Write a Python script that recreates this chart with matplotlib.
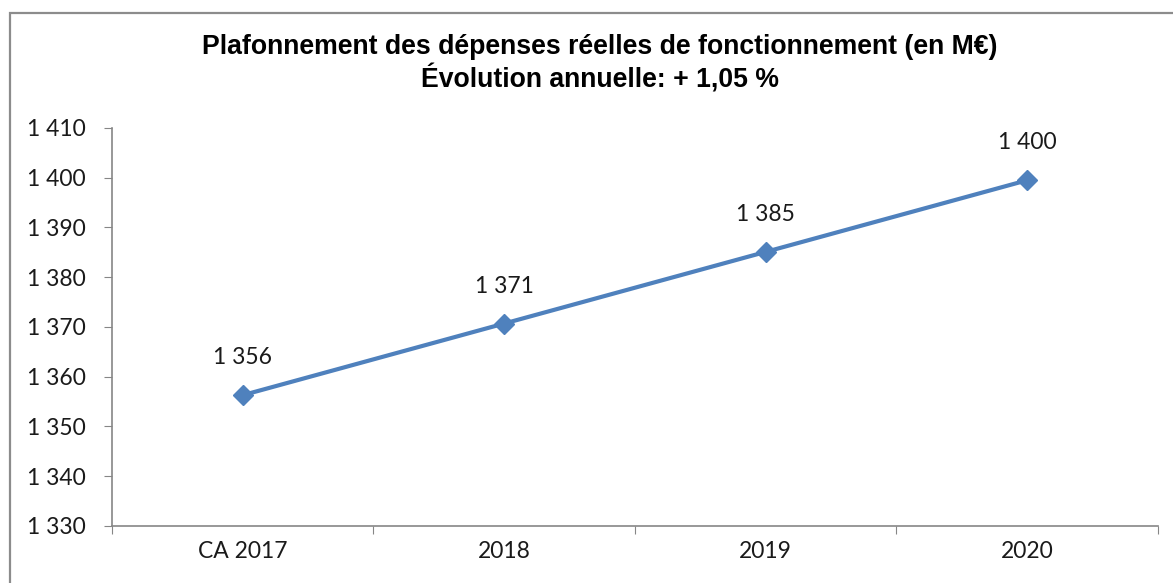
import matplotlib.pyplot as plt
from matplotlib.patches import Rectangle
import numpy as np

# chart data
categories = ["CA 2017", "2018", "2019", "2020"]
values = [1356.3, 1370.7, 1385.1, 1399.5]
value_labels = ["1 356", "1 371", "1 385", "1 400"]
y_ticks = [1330, 1340, 1350, 1360, 1370, 1380, 1390, 1400, 1410]

title = "Plafonnement des dépenses réelles de fonctionnement (en M€)\nÉvolution annuelle: + 1,05 %"

def fmtThousands(v):
	s = "%d" % v
	return s[:-3] + " " + s[-3:] if len(s) > 3 else s

fig = plt.figure(figsize=(11.73, 5.83), dpi=100)
fig.patch.set_facecolor("white")

#outer chart border, cut off on the right and bottom like the screenshot
border = Rectangle((10/1173, -0.05), 1.2, 1 - 13/583 + 0.05, transform=fig.transFigure,
	fill=False, edgecolor="#8c8c8c", linewidth=1.6, clip_on=False)
fig.patches.append(border)

ax = fig.add_axes([112/1173, 1 - 526/583, (1158 - 112)/1173, (526 - 128)/583])

xs = np.arange(len(categories))
ax.plot(xs, values, color="#4F81BD", linewidth=3, marker="D", markersize=10,
	markerfacecolor="#4F81BD", markeredgecolor="#4F81BD", zorder=3)

for x, v, lbl in zip(xs, values, value_labels):
	ax.annotate(lbl, (x, v), xytext=(0, 27), textcoords="offset points",
		ha="center", va="center", fontsize=16.5, family="Lato", color="#1a1a1a")

ax.set_xlim(-0.5, len(categories) - 0.5)
ax.set_ylim(y_ticks[0], y_ticks[-1])
ax.set_yticks(y_ticks)
ax.set_yticklabels([fmtThousands(t) for t in y_ticks], family="Lato", fontsize=16.5, color="#1a1a1a")

#category labels in the middle, ticks at the boundaries
ax.set_xticks(np.arange(len(categories) + 1) - 0.5)
ax.set_xticklabels([])
ax.set_xticks(xs, minor=True)
ax.set_xticklabels(categories, minor=True, family="Lato", fontsize=16.5, color="#1a1a1a")
ax.tick_params(axis="x", which="minor", length=0, pad=11)
ax.tick_params(axis="x", which="major", length=6, color="#868686", direction="out")
ax.tick_params(axis="y", length=6, color="#868686", direction="out", pad=13)

for side in ["top", "right"]:
	ax.spines[side].set_visible(False)
for side in ["left", "bottom"]:
	ax.spines[side].set_color("#868686")
	ax.spines[side].set_linewidth(1.2)

fig.text(600/1173, 1 - 64/583, title, ha="center", va="center", fontsize=19.2,
	fontweight="bold", family="Liberation Sans", linespacing=1.2)

fig.savefig("out.png", dpi=100, facecolor="white")
